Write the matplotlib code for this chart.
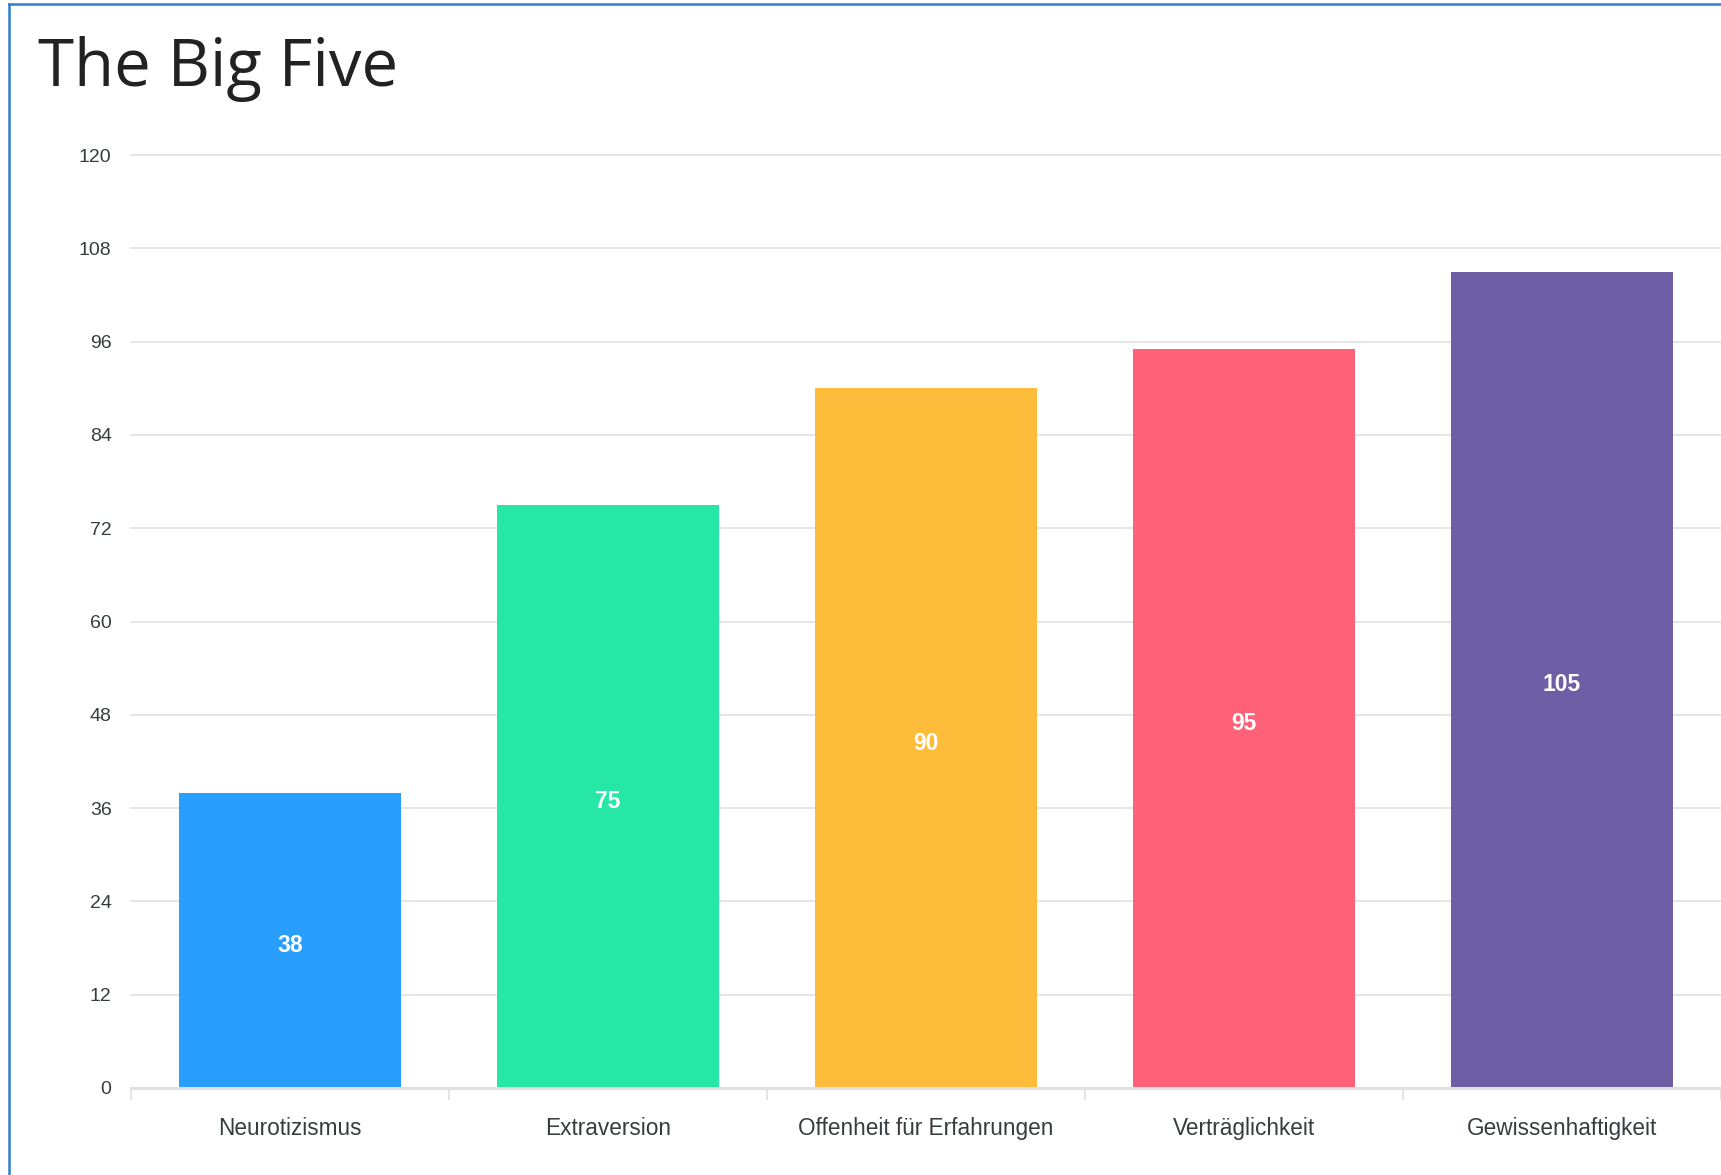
import matplotlib
matplotlib.use("Agg")
import matplotlib.pyplot as plt
import matplotlib.transforms as mtransforms
import numpy as np

title = "The Big Five"
categories = ["Neurotizismus", "Extraversion", "Offenheit für Erfahrungen",
              "Verträglichkeit", "Gewissenhaftigkeit"]
values = [38, 75, 90, 95, 105]
colors = ["#289EFE", "#27E7A6", "#FEBC3B", "#FF6178", "#6E5EA6"]
yticks = [0, 12, 24, 36, 48, 60, 72, 84, 96, 108, 120]

W, H = 1721, 1175
fig = plt.figure(figsize=(W / 100, H / 100), dpi=100)
fig.patch.set_facecolor("white")

ax = fig.add_axes([131 / W, 87 / H, (W - 131) / W, (1088 - 155) / H])
x = np.arange(len(categories))
ax.bar(x, values, width=0.70, color=colors, zorder=3)

down = mtransforms.offset_copy(ax.transData, fig=fig, x=0, y=-5, units="dots")
for xi, v in zip(x, values):
    ax.text(xi, v / 2, str(v), ha="center", va="center", color="white",
            fontsize=16.5, fontweight="bold", family=["Liberation Sans", "DejaVu Sans"],
            zorder=4, transform=down)

ax.set_xlim(-0.5, len(categories) - 0.5)
ax.set_ylim(0, 120)
ax.set_yticks(yticks)
ax.set_yticklabels([str(t) for t in yticks], fontsize=14, color="#373d3f",
                   family=["Liberation Sans", "DejaVu Sans"])
for t in yticks[1:]:
    ax.axhline(t, color="#e3e3e3", lw=1.3, zorder=1, clip_on=False)
ax.axhline(0, color="#e0e0e0", lw=2.2, zorder=5, clip_on=False)

ax.set_xticks(x)
ax.set_xticklabels(categories, fontsize=16.3, color="#373d3f",
                   family=["Liberation Sans", "DejaVu Sans"])
ax.set_xticks(np.arange(-0.5, len(categories)), minor=True)
ax.tick_params(axis="x", which="major", length=0, pad=21)
ax.tick_params(axis="x", which="minor", length=8.5, color="#e0e0e0", width=1.2)
ax.tick_params(axis="y", length=0, pad=14)
for s in ax.spines.values():
    s.set_visible(False)

fig.text(38 / W, 1 - 86 / H, title, fontsize=47, color="#222222",
         family=["Open Sans", "DejaVu Sans"], ha="left", va="baseline")

# blue frame (left and top edges)
fig.add_artist(plt.Line2D([8.5 / W, 8.5 / W], [0, 1 - 4 / H], color="#2f7fd0", lw=1.8))
fig.add_artist(plt.Line2D([8.5 / W, 1], [1 - 4 / H, 1 - 4 / H], color="#2f7fd0", lw=1.8))

fig.savefig("out.png", dpi=100, facecolor="white")
